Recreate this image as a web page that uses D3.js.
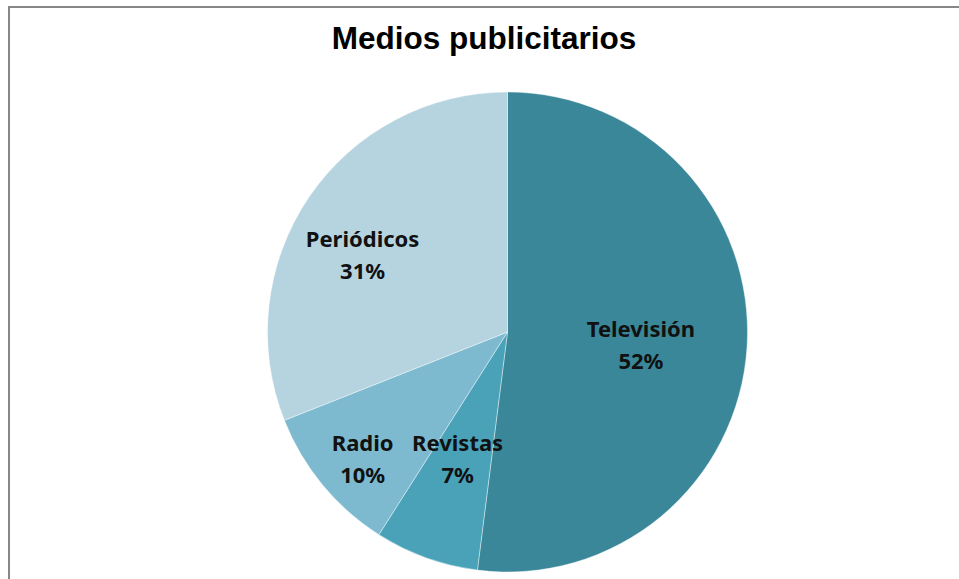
<!DOCTYPE html>
<html>
<head>
<meta charset="utf-8">
<script src="https://cdn.jsdelivr.net/npm/d3@7"></script>
<style>
  body { margin: 0; background: #fff; }
  svg { display: block; }
</style>
</head>
<body>
<svg id="chart"></svg>
<script>
// data
var categories = ['Televisión', 'Revistas', 'Radio', 'Periódicos'];
var values = [52, 7, 10, 31];
var colors = ['#3a879a', '#49a2b8', '#7dbad0', '#b5d4e0'];

// layout
var width = 959;
var height = 579;
var cx = 507.5, cy = 332, radius = 240;
// label placement: [fraction of radius, degrees off the slice's mid angle]
var labelPos = {
  'Televisión': [0.557, 0],
  'Revistas': [0.55, 2.4],
  'Radio': [0.79, -0.6],
  'Periódicos': [0.693, -4.8]
};

var svg = d3.select('#chart')
  .attr('width', width)
  .attr('height', height);

// chart frame (runs off the right and bottom)
svg.append('rect')
  .attr('x', 9)
  .attr('y', 7)
  .attr('width', 1000)
  .attr('height', 700)
  .style('fill', 'none')
  .style('stroke', '#878787')
  .style('stroke-width', 2);

// title
svg.append('text')
  .attr('x', 484)
  .attr('y', 49)
  .attr('text-anchor', 'middle')
  .style('font-family', 'Liberation Sans, Arial, sans-serif')
  .style('font-weight', 'bold')
  .style('font-size', '31.5px')
  .text('Medios publicitarios');

var data = categories.map(function(c, i) {
  return {name: c, value: values[i], color: colors[i]};
});

var pie = d3.pie()
  .sort(null)
  .value(function(d) { return d.value; });

var arc = d3.arc().innerRadius(0).outerRadius(radius);

var g = svg.append('g')
  .attr('transform', 'translate(' + cx + ',' + cy + ')');

var slices = pie(data);

g.selectAll('path')
  .data(slices)
  .enter()
  .append('path')
  .attr('d', arc)
  .style('fill', function(d) { return d.data.color; })
  .style('stroke', '#ffffff')
  .style('stroke-width', 0.4);

// labels
var total = d3.sum(values);
var labels = g.selectAll('text.lbl')
  .data(slices)
  .enter()
  .append('text')
  .classed('lbl', true)
  .attr('transform', function(d) {
    var p = labelPos[d.data.name];
    var a = (d.startAngle + d.endAngle) / 2 + p[1] * Math.PI / 180;
    var r = radius * p[0];
    return 'translate(' + (r * Math.sin(a)) + ',' + (-r * Math.cos(a)) + ')';
  })
  .attr('text-anchor', 'middle')
  .style('font-family', 'Noto Sans, sans-serif')
  .style('font-weight', 'bold')
  .style('font-size', '22px')
  .style('fill', '#111');

labels.append('tspan')
  .attr('x', 0)
  .attr('dy', '-0.15em')
  .text(function(d) { return d.data.name; });
labels.append('tspan')
  .attr('x', 0)
  .attr('dy', '1.45em')
  .text(function(d) { return Math.round(d.data.value / total * 100) + '%'; });
</script>
</body>
</html>
